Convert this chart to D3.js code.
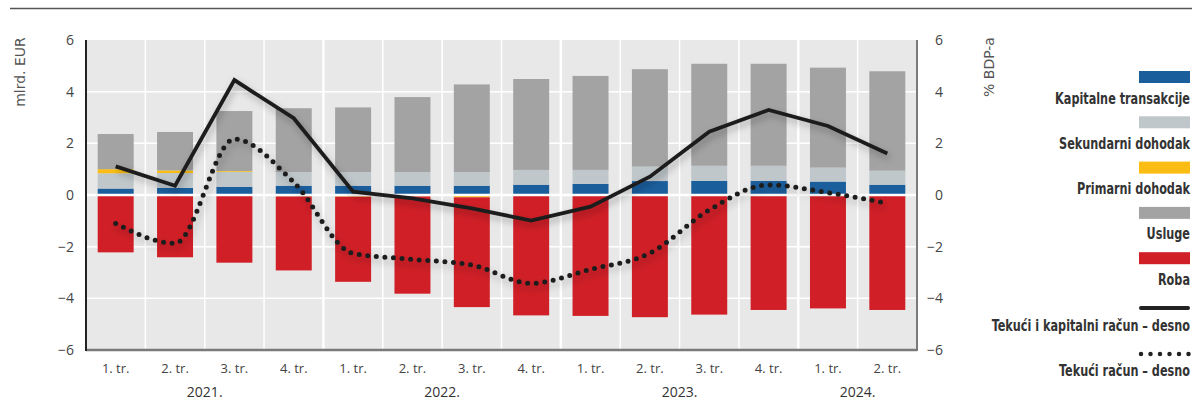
<!DOCTYPE html>
<html><head><meta charset="utf-8">
<script src="https://cdn.jsdelivr.net/npm/d3@7"></script>
<style>
body{margin:0;background:#fff;}
svg{display:block;}
.tick text{font-family:"Open Sans",sans-serif;}
</style></head>
<body>
<svg id="c" width="1192" height="417"></svg>
<script>
const quarters = ["1. tr.","2. tr.","3. tr.","4. tr.","1. tr.","2. tr.","3. tr.","4. tr.","1. tr.","2. tr.","3. tr.","4. tr.","1. tr.","2. tr."];
const years = ["2021.","2022.","2023.","2024."];
const yearStart = [0,4,8,12];
const yearLen = [4,4,4,2];
const kapitalne = [0.25,0.28,0.32,0.36,0.36,0.36,0.36,0.40,0.43,0.54,0.55,0.55,0.52,0.40];
const sekundarni = [0.59,0.57,0.58,0.53,0.53,0.53,0.53,0.57,0.54,0.56,0.58,0.58,0.54,0.54];
const primarni = [0.16,0.10,0.03,-0.05,-0.06,-0.05,-0.09,-0.03,-0.02,-0.03,-0.02,-0.01,-0.01,-0.01];
const usluge = [1.36,1.49,2.32,2.47,2.50,2.90,3.39,3.52,3.64,3.77,3.95,3.95,3.87,3.85];
const roba = [-2.22,-2.41,-2.62,-2.87,-3.30,-3.77,-4.25,-4.63,-4.66,-4.70,-4.61,-4.44,-4.38,-4.44];
const tekuciKapitalni = [1.11,0.36,4.45,2.97,0.13,-0.13,-0.52,-0.99,-0.45,0.71,2.45,3.29,2.67,1.61];
const tekuci = [-1.10,-1.87,2.16,0.49,-2.26,-2.49,-2.71,-3.42,-2.88,-2.25,-0.58,0.39,0.09,-0.32];
const yTicks = [-6,-4,-2,0,2,4,6];

const seriesKeys = ["kap","sek","prim","usl","roba"];
const seriesNames = {kap:"Kapitalne transakcije",sek:"Sekundarni dohodak",prim:"Primarni dohodak",usl:"Usluge",roba:"Roba"};
const colors = {kap:"#1b5e9c",sek:"#bfc7cb",prim:"#fbbd13",usl:"#a3a3a3",roba:"#d01f27"};

const table = quarters.map((q,i)=>({i, kap:kapitalne[i], sek:sekundarni[i], prim:primarni[i], usl:usluge[i], roba:roba[i]}));

const svg = d3.select("#c");
const X0=86, X1=917, Y0=40, Y1=350;
const x = d3.scaleBand().domain(d3.range(quarters.length)).range([X0,X1]).paddingInner(0.394).paddingOuter(0.197);
const step = x.step();
const y = d3.scaleLinear().domain([-6,6]).range([Y1,Y0]);
const yR = d3.scaleLinear().domain([-6,6]).range([Y1,Y0]);

// top rule
svg.append("line").attr("x1",10).attr("x2",1192).attr("y1",8.5).attr("y2",8.5).attr("stroke","#555").attr("stroke-width",1.5);

// defs shadow
const defs = svg.append("defs");
const f = defs.append("filter").attr("id","sh").attr("x","-10%").attr("y","-20%").attr("width","130%").attr("height","150%");
f.append("feDropShadow").attr("dx",2).attr("dy",4).attr("stdDeviation",3.5).attr("flood-color","#000").attr("flood-opacity",0.28);

// background
svg.append("rect").attr("x",X0).attr("y",Y0).attr("width",X1-X0).attr("height",Y1-Y0).attr("fill","#e8e8e8");

// horizontal grid
svg.append("g").selectAll("line").data(yTicks.filter(t=>t!==0 && t!==-6 && t!==6)).join("line")
  .attr("x1",X0).attr("x2",X1).attr("y1",d=>y(d)).attr("y2",d=>y(d)).attr("stroke","#fff").attr("stroke-width",1.5);
// vertical grid
svg.append("g").selectAll("line").data(d3.range(1,quarters.length)).join("line")
  .attr("x1",d=>X0+step*d).attr("x2",d=>X0+step*d).attr("y1",Y0).attr("y2",Y1)
  .attr("stroke","#fff").attr("stroke-width",d=>yearStart.includes(d)?2.5:1.5);

// bars
const stack = d3.stack().keys(seriesKeys).offset(d3.stackOffsetDiverging);
const stacked = stack(table);
svg.append("g").selectAll("g").data(stacked).join("g").attr("fill",d=>colors[d.key])
  .selectAll("rect").data(d=>d).join("rect")
  .attr("x",d=>x(d.data.i)).attr("width",x.bandwidth())
  .attr("y",d=>y(Math.max(d[0],d[1]))).attr("height",d=>Math.abs(y(d[0])-y(d[1])));

// zero line over bars
svg.append("line").attr("x1",X0).attr("x2",X1).attr("y1",y(0)).attr("y2",y(0)).attr("stroke","#fff").attr("stroke-width",2.5);

// lines
const cx = i=>x(i)+x.bandwidth()/2;
const solid = d3.line().x((d,i)=>cx(i)).y(d=>yR(d));
const dotted = d3.line().x((d,i)=>cx(i)).y(d=>yR(d)).curve(d3.curveMonotoneX);
svg.append("path").datum(tekuci).attr("d",dotted).attr("fill","none").attr("stroke","#1e1e1e")
  .attr("stroke-width",5).attr("stroke-linecap","round").attr("stroke-dasharray","0 8.6").attr("filter","url(#sh)");
svg.append("path").datum(tekuciKapitalni).attr("d",solid).attr("fill","none").attr("stroke","#1e1e1e")
  .attr("stroke-width",3.8).attr("stroke-linejoin","miter").attr("filter","url(#sh)");

// axes lines
svg.append("line").attr("x1",X0).attr("x2",X1).attr("y1",Y1).attr("y2",Y1).attr("stroke","#7a7a7a").attr("stroke-width",2.5);
svg.append("line").attr("x1",X1).attr("x2",X1).attr("y1",Y0).attr("y2",Y1+1).attr("stroke","#7a7a7a").attr("stroke-width",2);
svg.append("line").attr("x1",X0).attr("x2",X0).attr("y1",Y0).attr("y2",Y1+1).attr("stroke","#222").attr("stroke-width",2);

const fmt = d => d<0 ? "\u2212"+Math.abs(d) : String(d);
// left ticks
const yl = svg.append("g").attr("transform",`translate(${X0},0)`).call(d3.axisLeft(y).tickValues(yTicks).tickFormat(fmt).tickSize(0).tickPadding(12));
yl.select(".domain").remove();
yl.selectAll("text").attr("font-size",14).attr("fill","#444");
// right ticks (right-aligned)
const yr = svg.append("g").attr("transform",`translate(${X1},0)`).call(d3.axisRight(yR).tickValues(yTicks).tickFormat(fmt).tickSize(0).tickPadding(26));
yr.select(".domain").remove();
yr.selectAll("text").attr("font-size",14).attr("fill","#444").attr("text-anchor","end");

// x ticks
const xa = svg.append("g").attr("transform",`translate(0,${Y1})`).call(d3.axisBottom(x).tickFormat(i=>quarters[i]).tickSize(0).tickPadding(14));
xa.select(".domain").remove();
xa.selectAll("text").attr("font-size",13).attr("fill","#444");
// years
svg.append("g").selectAll("text").data(years).join("text")
  .attr("x",(d,k)=>X0+step*(yearStart[k]+yearLen[k]/2)).attr("y",397)
  .attr("text-anchor","middle").attr("font-family","Open Sans, sans-serif").attr("font-size",14).attr("fill","#333").text(d=>d);

// axis titles
svg.append("text").attr("transform","translate(25,72) rotate(-90)").attr("text-anchor","middle")
  .attr("font-family","DejaVu Sans, sans-serif").attr("font-size",14).attr("fill","#555").text("mlrd. EUR");
svg.append("text").attr("transform","translate(994,67) rotate(-90)").attr("text-anchor","middle")
  .attr("font-family","DejaVu Sans, sans-serif").attr("font-size",14).attr("fill","#555").text("% BDP-a");

// legend
const lg = svg.append("g").attr("font-family","'DejaVu Sans Condensed','DejaVu Sans',sans-serif").attr("font-weight","bold").attr("font-size",15).attr("fill","#333");
const LX0=1139, LX1=1190;
const legText = (t, yb) => lg.append("text").attr("transform",`translate(${LX1},${yb}) scale(0.835,1)`).attr("text-anchor","end").text(t);
seriesKeys.forEach((k,j)=>{
  const top = 71 + j*45.3;
  lg.append("rect").attr("x",LX0).attr("y",top).attr("width",LX1-LX0).attr("height",12).attr("fill",colors[k]);
  legText(seriesNames[k], top+32.5);
});
lg.append("line").attr("x1",LX0+2).attr("x2",LX1-2).attr("y1",308).attr("y2",308).attr("stroke","#222").attr("stroke-width",4).attr("stroke-linecap","round");
legText("Teku\u0107i i kapitalni ra\u010dun \u2013 desno", 330.5);
lg.append("line").attr("x1",LX0+2).attr("x2",LX1).attr("y1",354).attr("y2",354).attr("stroke","#222").attr("stroke-width",4.5).attr("stroke-linecap","round").attr("stroke-dasharray","0 9.5");
legText("Teku\u0107i ra\u010dun \u2013 desno", 375.5);
</script>
</body></html>
